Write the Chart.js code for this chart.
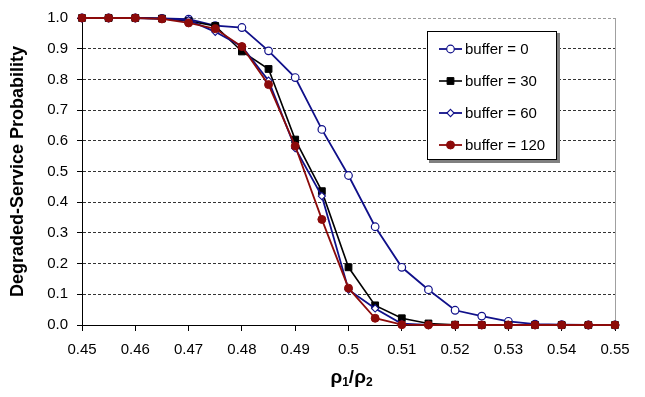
<!DOCTYPE html>
<html>
<head>
<meta charset="utf-8">
<script src="https://cdn.jsdelivr.net/npm/chart.js@4/dist/chart.umd.min.js"></script>
<style>
  html, body { margin: 0; padding: 0; background: #ffffff; }
  #wrap { width: 645px; height: 397px; position: relative; }
</style>
</head>
<body>
<div id="wrap"><canvas id="c" width="645" height="397"></canvas></div>
<script>
// ---- data ----
const xValues = [0.45, 0.455, 0.46, 0.465, 0.47, 0.475, 0.48, 0.485, 0.49, 0.495, 0.5,
                 0.505, 0.51, 0.515, 0.52, 0.525, 0.53, 0.535, 0.54, 0.545, 0.55];
const seriesNames = ['buffer = 0', 'buffer = 30', 'buffer = 60', 'buffer = 120'];
const buffer0   = [1.0, 1.0, 1.0, 0.999, 0.996, 0.975, 0.969, 0.893, 0.806, 0.637, 0.487,
                   0.320, 0.188, 0.115, 0.048, 0.029, 0.012, 0.003, 0.001, 0.0, 0.0];
const buffer30  = [1.0, 1.0, 1.0, 0.998, 0.990, 0.974, 0.891, 0.834, 0.604, 0.436, 0.188,
                   0.064, 0.022, 0.005, 0.001, 0.0, 0.0, 0.0, 0.0, 0.0, 0.0];
const buffer60  = [1.0, 1.0, 1.0, 0.998, 0.993, 0.955, 0.907, 0.796, 0.576, 0.420, 0.115,
                   0.054, 0.004, 0.0, 0.0, 0.0, 0.0, 0.0, 0.0, 0.0, 0.0];
const buffer120 = [1.0, 1.0, 1.0, 0.997, 0.984, 0.965, 0.907, 0.783, 0.583, 0.344, 0.120,
                   0.022, 0.001, 0.0, 0.0, 0.0, 0.0, 0.0, 0.0, 0.0, 0.0];
const xTickLabels = ['0.45', '0.46', '0.47', '0.48', '0.49', '0.5', '0.51', '0.52', '0.53', '0.54', '0.55'];
const yTickLabels = ['0.0', '0.1', '0.2', '0.3', '0.4', '0.5', '0.6', '0.7', '0.8', '0.9', '1.0'];
// x-axis title parts: [text, isSubscript]
const xTitleParts = [['ρ', false], ['1', true], ['/', false], ['ρ', false], ['2', true]];
const yTitle = 'Degraded-Service Probability';

// ---- styles ----
const BLUE = '#10108a';
const RED = '#8c0a0a';
const BLACK = '#000000';
const FONT = '"Liberation Sans", Arial, sans-serif';

function pts(arr) { return arr.map((v, i) => ({ x: xValues[i], y: v })); }

const datasets = [
  { label: seriesNames[0], data: pts(buffer0), borderColor: BLUE, backgroundColor: '#ffffff',
    pointStyle: 'circle', pointRadius: 3.8, pointBorderWidth: 1.2, pointBorderColor: BLUE,
    pointBackgroundColor: '#ffffff', borderWidth: 1.8, order: 4 },
  { label: seriesNames[1], data: pts(buffer30), borderColor: BLACK, backgroundColor: BLACK,
    pointStyle: 'rect', pointRadius: 4.8, pointBorderWidth: 1, pointBorderColor: BLACK,
    pointBackgroundColor: BLACK, borderWidth: 1.6, order: 3 },
  { label: seriesNames[2], data: pts(buffer60), borderColor: BLUE, backgroundColor: '#ffffff',
    pointStyle: 'rectRot', pointRadius: 3.6, pointBorderWidth: 1.1, pointBorderColor: BLUE,
    pointBackgroundColor: '#ffffff', borderWidth: 1.8, order: 2 },
  { label: seriesNames[3], data: pts(buffer120), borderColor: RED, backgroundColor: RED,
    pointStyle: 'circle', pointRadius: 4, pointBorderWidth: 1, pointBorderColor: RED,
    pointBackgroundColor: RED, borderWidth: 1.8, order: 1 }
];
datasets.forEach(d => { d.clip = false; d.tension = 0; d.fill = false; d.pointHoverRadius = d.pointRadius; });

const legendPlugin = {
  id: 'boxLegend',
  afterDraw(chart) {
    const ctx = chart.ctx;
    const ca = chart.chartArea;
    const bx = ca.right - 188, by = ca.top + 13, bw = 130, bh = 129;
    ctx.save();
    ctx.fillStyle = '#808080';
    ctx.fillRect(bx + 2, by + 2, bw + 1, bh + 1);
    ctx.fillStyle = '#ffffff';
    ctx.fillRect(bx, by, bw, bh);
    ctx.strokeStyle = '#000000';
    ctx.lineWidth = 1;
    ctx.strokeRect(bx + 0.5, by + 0.5, bw - 1, bh - 1);
    const rowH = 32;
    chart.data.datasets.forEach((ds, i) => {
      const cy = by + 18 + i * rowH;
      const x0 = bx + 12, x1 = bx + 35, mx = (x0 + x1) / 2;
      ctx.strokeStyle = ds.borderColor;
      ctx.lineWidth = ds.borderWidth;
      ctx.beginPath(); ctx.moveTo(x0, cy); ctx.lineTo(x1, cy); ctx.stroke();
      ctx.fillStyle = ds.pointBackgroundColor;
      ctx.strokeStyle = ds.pointBorderColor;
      ctx.lineWidth = ds.pointBorderWidth;
      const r = ds.pointRadius;
      ctx.beginPath();
      if (ds.pointStyle === 'circle') {
        ctx.arc(mx, cy, r, 0, Math.PI * 2);
      } else if (ds.pointStyle === 'rect') {
        const s = r * Math.SQRT1_2;
        ctx.rect(mx - s, cy - s, 2 * s, 2 * s);
      } else {
        ctx.moveTo(mx, cy - r); ctx.lineTo(mx + r, cy); ctx.lineTo(mx, cy + r); ctx.lineTo(mx - r, cy); ctx.closePath();
      }
      ctx.fill(); ctx.stroke();
      ctx.fillStyle = '#000000';
      ctx.font = '15px ' + FONT;
      ctx.textBaseline = 'middle';
      ctx.textAlign = 'left';
      ctx.fillText(ds.label, bx + 38, cy + 1);
    });
    ctx.restore();
  }
};

const xTitlePlugin = {
  id: 'xTitleSub',
  afterDraw(chart) {
    const ctx = chart.ctx, ca = chart.chartArea;
    ctx.save();
    ctx.fillStyle = '#000000';
    ctx.textBaseline = 'alphabetic';
    ctx.textAlign = 'left';
    const mainFont = 'bold 19px ' + FONT;
    const subFont = 'bold 12px ' + FONT;
    let total = 0;
    xTitleParts.forEach(([t, sub]) => { ctx.font = sub ? subFont : mainFont; total += ctx.measureText(t).width; });
    let x = (ca.left + ca.right) / 2 + 3 - total / 2;
    const base = 383;
    xTitleParts.forEach(([t, sub]) => {
      ctx.font = sub ? subFont : mainFont;
      ctx.fillText(t, x, sub ? base + 3 : base);
      x += ctx.measureText(t).width;
    });
    ctx.restore();
  }
};

const frameRight = {
  id: 'frameRight',
  beforeDatasetsDraw(chart) {
    const ctx = chart.ctx, ca = chart.chartArea;
    ctx.save();
    ctx.strokeStyle = '#a0a0a0';
    ctx.lineWidth = 1;
    ctx.beginPath();
    ctx.moveTo(Math.round(ca.right) + 0.5, ca.top);
    ctx.lineTo(Math.round(ca.right) + 0.5, ca.bottom);
    ctx.stroke();
    ctx.restore();
  }
};

Chart.defaults.font.family = FONT;
Chart.defaults.color = '#000000';

new Chart(document.getElementById('c'), {
  type: 'line',
  data: { datasets },
  options: {
    responsive: false,
    animation: false,
    layout: { padding: { top: 11, right: 30, left: 0, bottom: 0 } },
    plugins: { legend: { display: false }, tooltip: { enabled: false } },
    scales: {
      x: {
        type: 'linear', min: 0.45, max: 0.55,
        afterFit(scale) { scale.height = 72; },
        ticks: {
          stepSize: 0.01, autoSkip: false, maxRotation: 0, padding: 10,
          font: { size: 15 }, color: '#000000',
          callback: (v, i) => xTickLabels[i]
        },
        grid: { drawOnChartArea: false, drawTicks: true, tickLength: 6, tickColor: '#000000', color: '#000000' },
        border: { display: true, color: '#000000', width: 1 },
        title: { display: false }
      },
      y: {
        type: 'linear', min: 0, max: 1,
        afterFit(scale) { scale.width = 82; },
        ticks: {
          stepSize: 0.1, autoSkip: false, padding: 9,
          font: { size: 15 }, color: '#000000',
          callback: (v, i) => yTickLabels[i]
        },
        grid: {
          drawOnChartArea: true, drawTicks: true, tickLength: 5, tickColor: '#000000',
          color: (c) => (c.index === 10 ? '#9a9a9a' : '#333333'), lineWidth: 1,
          tickBorderDash: []
        },
        border: { display: true, color: '#000000', width: 1, dash: [3, 2] },
        title: { display: true, text: yTitle, font: { size: 18, weight: 'bold' }, color: '#000000',
                 padding: { top: 7, bottom: 0 } }
      }
    }
  },
  plugins: [frameRight, legendPlugin, xTitlePlugin]
});
</script>
</body>
</html>
